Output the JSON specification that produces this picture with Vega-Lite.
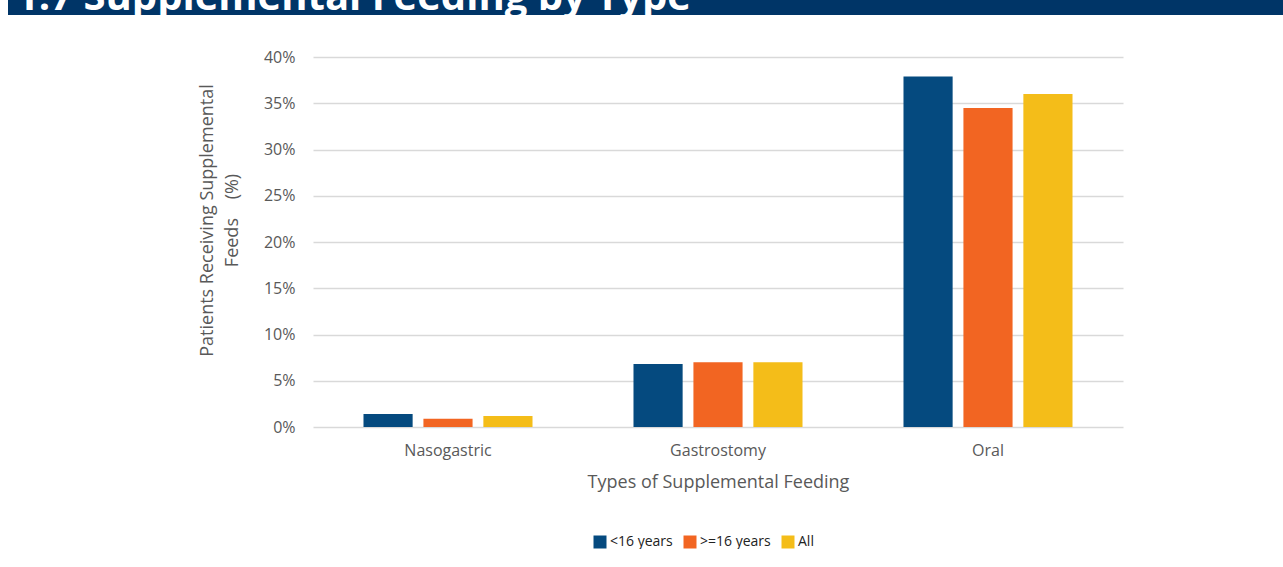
{
  "$schema": "https://vega.github.io/schema/vega-lite/v6.json",
  "background": "white",
  "padding": {"left": 8, "top": 0, "right": 0, "bottom": 0},
  "spacing": 34,
  "config": {
    "view": {"stroke": null},
    "font": "Open Sans"
  },
  "vconcat": [
    {
      "width": 1275,
      "height": 15,
      "view": {"fill": "#003567", "stroke": null},
      "data": {"values": [{"title": "1.7 Supplemental Feeding by Type"}]},
      "mark": {
        "type": "text",
        "clip": true,
        "align": "left",
        "baseline": "alphabetic",
        "fontSize": 40,
        "fontWeight": "bold",
        "color": "white",
        "dx": 8,
        "dy": -5
      },
      "encoding": {
        "x": {"datum": 0, "type": "quantitative", "scale": {"domain": [0, 1]}, "axis": null},
        "y": {"datum": 0, "type": "quantitative", "scale": {"domain": [0, 1]}, "axis": null},
        "text": {"field": "title"}
      }
    },
    {
      "width": 1275,
      "height": 370,
      "data": {
        "values": [
          {"type": "Nasogastric", "group": "<16 years", "value": 1.4},
          {"type": "Nasogastric", "group": ">=16 years", "value": 0.9},
          {"type": "Nasogastric", "group": "All", "value": 1.2},
          {"type": "Gastrostomy", "group": "<16 years", "value": 6.8},
          {"type": "Gastrostomy", "group": ">=16 years", "value": 7.0},
          {"type": "Gastrostomy", "group": "All", "value": 7.0},
          {"type": "Oral", "group": "<16 years", "value": 37.9},
          {"type": "Oral", "group": ">=16 years", "value": 34.5},
          {"type": "Oral", "group": "All", "value": 36.0}
        ]
      },
      "mark": {"type": "bar"},
      "encoding": {
        "x": {
          "field": "type",
          "type": "nominal",
          "sort": ["Nasogastric", "Gastrostomy", "Oral"],
          "scale": {"range": [305, 1115], "paddingInner": 0.374, "paddingOuter": 0.187},
          "axis": {
            "title": "Types of Supplemental Feeding",
            "titleX": 710,
            "labelAngle": 0,
            "ticks": false,
            "domain": false,
            "labelFont": "Open Sans",
            "labelFontSize": 16,
            "labelColor": "#595959",
            "labelPadding": 15,
            "titleFont": "Open Sans",
            "titleFontSize": 18,
            "titleFontWeight": "normal",
            "titleColor": "#595959",
            "titlePadding": 15
          }
        },
        "xOffset": {
          "field": "group",
          "type": "nominal",
          "sort": ["<16 years", ">=16 years", "All"],
          "scale": {"paddingInner": 0.18, "paddingOuter": 0}
        },
        "y": {
          "field": "value",
          "type": "quantitative",
          "scale": {"domain": [0, 40]},
          "axis": {
            "values": [0, 5, 10, 15, 20, 25, 30, 35, 40],
            "labelExpr": "datum.value + '%'",
            "title": ["Patients Receiving Supplemental", "Feeds\u00a0\u00a0\u00a0 (%)"],
            "offset": -305,
            "domain": false,
            "ticks": false,
            "gridColor": "#d9d9d9",
            "gridWidth": 1.5,
            "labelFont": "Open Sans",
            "labelFontSize": 16,
            "labelColor": "#595959",
            "labelPadding": 18,
            "titleX": -97,
            "titleY": 163,
            "titleFont": "Open Sans",
            "titleFontSize": 18,
            "titleFontWeight": "normal",
            "titleColor": "#595959",
            "titleLineHeight": 25
          }
        },
        "color": {
          "field": "group",
          "type": "nominal",
          "scale": {
            "domain": ["<16 years", ">=16 years", "All"],
            "range": ["#054a7f", "#f26522", "#f4bd19"]
          },
          "legend": {
            "orient": "none",
            "legendX": 585,
            "legendY": 535,
            "direction": "horizontal",
            "title": null,
            "symbolType": "square",
            "symbolSize": 169,
            "symbolStrokeWidth": 0,
            "labelFont": "Open Sans",
            "labelFontSize": 14,
            "labelColor": "#222222",
            "labelOffset": 3,
            "columnPadding": 10
          }
        }
      }
    }
  ]
}
